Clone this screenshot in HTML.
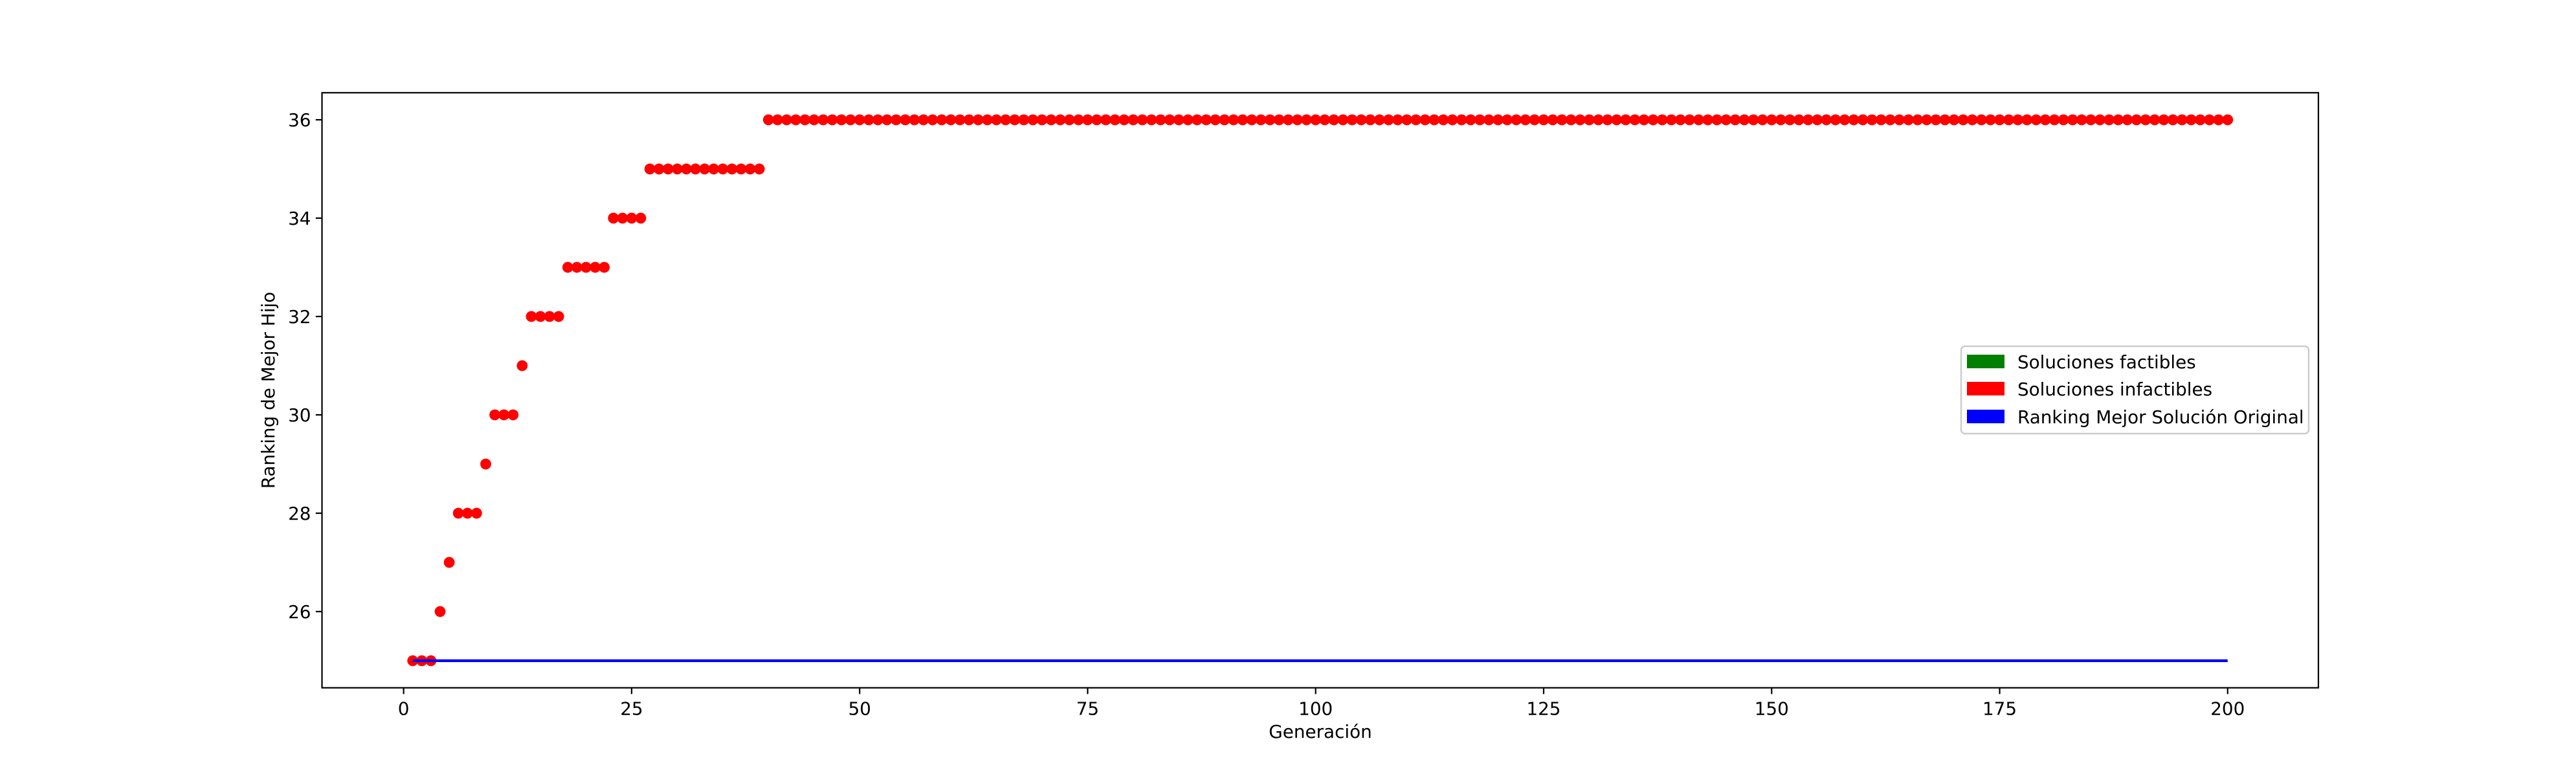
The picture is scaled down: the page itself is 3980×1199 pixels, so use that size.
<!DOCTYPE html>
<html><head><meta charset="utf-8"><style>
html,body{margin:0;padding:0;background:#fff;}
svg text{font-family:"DejaVu Sans","Liberation Sans",sans-serif;fill:#000;}
</style></head><body>
<svg id="chart" width="3980" height="1194" viewBox="0 0 3980 1194" xmlns="http://www.w3.org/2000/svg">
<rect x="0" y="0" width="3980" height="1194" fill="#fff"/>
<g id="plot"></g>
<g id="axes"></g>
<g>
<rect x="3030" y="535" width="537" height="135" rx="6" fill="#fff" fill-opacity="0.8" stroke="#ccc" stroke-width="2.5"/>
<rect x="3039" y="548" width="58" height="21" fill="green"/>
<text x="3117" y="569" font-size="27.8">Soluciones factibles</text>
<rect x="3039" y="590" width="58" height="21" fill="red"/>
<text x="3117" y="611" font-size="27.8">Soluciones infactibles</text>
<rect x="3039" y="633" width="58" height="21" fill="blue"/>
<text x="3117" y="654" font-size="27.8">Ranking Mejor Solución Original</text>
</g>
<text x="2040" y="1140" font-size="27.8" text-anchor="middle">Generación</text>
<text transform="translate(424,603) rotate(-90)" font-size="27.8" text-anchor="middle">Ranking de Mejor Hijo</text>
</svg>
<script>
const generations = [];
for (let g = 1; g <= 200; g++) generations.push(g);
const stepStarts = [1, 4, 5, 6, 9, 10, 13, 14, 18, 23, 27, 40];
const stepValues = [25, 26, 27, 28, 29, 30, 31, 32, 33, 34, 35, 36];
const originalBest = 25;
const xTicks = [0, 25, 50, 75, 100, 125, 150, 175, 200];
const yTicks = [26, 28, 30, 32, 34, 36];

const L = 497.5, R = 3582, T = 143.3, B = 1062.7;
const xMin = -8.95, xMax = 209.95, yMin = 24.45, yMax = 36.55;
const sx = v => L + (v - xMin) / (xMax - xMin) * (R - L);
const sy = v => B - (v - yMin) / (yMax - yMin) * (B - T);
const NS = "http://www.w3.org/2000/svg";
const plot = document.getElementById('plot');
const axes = document.getElementById('axes');
function mk(tag, attrs, parent) {
  const e = document.createElementNS(NS, tag);
  for (const k in attrs) e.setAttribute(k, attrs[k]);
  parent.appendChild(e);
  return e;
}
function valueAt(g) {
  let v = stepValues[0];
  for (let i = 0; i < stepStarts.length; i++) if (g >= stepStarts[i]) v = stepValues[i];
  return v;
}
generations.forEach(g => {
  const c = mk('circle', {cx: sx(g), cy: sy(valueAt(g)), r: 8.4, fill: 'red'}, plot);
  
  
});
const line = mk('line', {x1: sx(generations[0]), x2: sx(generations[generations.length - 1]), y1: sy(originalBest), y2: sy(originalBest), stroke: 'blue', 'stroke-width': 4.2}, plot);



const frame = mk('rect', {x: L, y: T, width: R - L, height: B - T, fill: 'none', stroke: '#000', 'stroke-width': 2.2}, axes);


xTicks.forEach(t => {
  const x = sx(t);
  const tk = mk('line', {x1: x, x2: x, y1: B, y2: B + 9.7, stroke: '#000', 'stroke-width': 2.2}, axes);
  
  
  const tx = mk('text', {x: x, y: B + 42, 'font-size': 27.8, 'text-anchor': 'middle'}, axes);
  tx.textContent = t;
  
  
});
yTicks.forEach(t => {
  const y = sy(t);
  const tk = mk('line', {x1: L - 9.7, x2: L, y1: y, y2: y, stroke: '#000', 'stroke-width': 2.2}, axes);
  
  
  const tx = mk('text', {x: L - 17, y: y + 10, 'font-size': 27.8, 'text-anchor': 'end'}, axes);
  tx.textContent = t;
  
  
});
</script>
</body></html>
